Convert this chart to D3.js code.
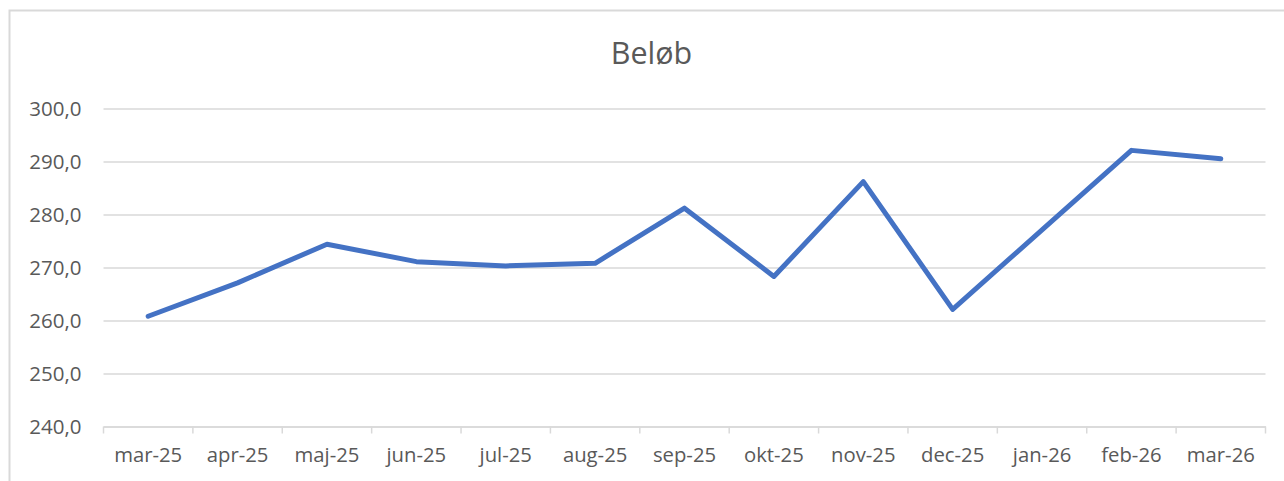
<!DOCTYPE html>
<html>
<head>
<meta charset="utf-8">
<script src="https://cdn.jsdelivr.net/npm/d3@7"></script>
<style>
  html, body { margin: 0; padding: 0; background: #fff; }
  svg { display: block; }
  text { font-family: "Open Sans", "Noto Sans", sans-serif; fill: #595959; }
</style>
</head>
<body>
<svg id="chart" width="1284" height="481"></svg>
<script>
const title = "Beløb";
const categories = ["mar-25","apr-25","maj-25","jun-25","jul-25","aug-25","sep-25","okt-25","nov-25","dec-25","jan-26","feb-26","mar-26"];
const values = [260.8, 267.1, 274.4, 271.1, 270.3, 270.8, 281.2, 268.3, 286.2, 262.1, 277.1, 292.1, 290.5];
const yTicks = [240, 250, 260, 270, 280, 290, 300];

(function () {
const svg = d3.select("#chart");
const W = 1284, H = 481;
const pLeft = 103.5, pRight = 1265.5, pTop = 108.5, pBottom = 426.5;

// chart border
svg.append("rect")
  .attr("x", 9.5).attr("y", 10.5)
  .attr("width", W + 20).attr("height", H + 20)
  .attr("fill", "#fff").attr("stroke", "#d9d9d9").attr("stroke-width", 2);

const x = d3.scaleBand().domain(categories).range([pLeft, pRight]).paddingInner(0).paddingOuter(0);
const y = d3.scaleLinear().domain([240, 300]).range([pBottom, pTop]);

// gridlines
const yAxis = d3.axisLeft(y).tickValues(yTicks)
  .tickSize(-(pRight - pLeft))
  .tickPadding(22)
  .tickFormat(d => d3.format(".1f")(d).replace(".", ","));
const gy = svg.append("g").attr("transform", `translate(${pLeft},0)`).call(yAxis);
gy.select(".domain").remove();
gy.selectAll(".tick line").attr("stroke", "#d9d9d9").attr("stroke-width", 1.5);
gy.selectAll(".tick text").attr("font-size", 20.5).attr("fill", "#595959").attr("dy", "0.33em");

// x axis
const xAxis = d3.axisBottom(x).tickSize(0).tickPadding(21);
const gx = svg.append("g").attr("transform", `translate(0,${pBottom})`).call(xAxis);
gx.select(".domain").attr("stroke", "#d9d9d9").attr("stroke-width", 1.5);
gx.selectAll(".tick text").attr("font-size", 20.3).attr("fill", "#595959");
// tick marks at band boundaries
const bounds = categories.map(c => x(c)).concat([pRight]);
svg.append("g").selectAll("line").data(bounds).join("line")
  .attr("x1", d => d).attr("x2", d => d)
  .attr("y1", pBottom).attr("y2", pBottom + 7)
  .attr("stroke", "#d9d9d9").attr("stroke-width", 1.5);

// line
const line = d3.line()
  .x((d, i) => x(categories[i]) + x.bandwidth() / 2)
  .y(d => y(d));
svg.append("path").datum(values)
  .attr("d", line)
  .attr("fill", "none")
  .attr("stroke", "#4472C4")
  .attr("stroke-width", 5)
  .attr("stroke-linecap", "round")
  .attr("stroke-linejoin", "round");

// title
svg.append("text").text(title)
  .attr("x", 651.5).attr("y", 64)
  .attr("text-anchor", "middle")
  .attr("font-size", 30.5)
  .attr("fill", "#595959");
})();
</script>
</body>
</html>
